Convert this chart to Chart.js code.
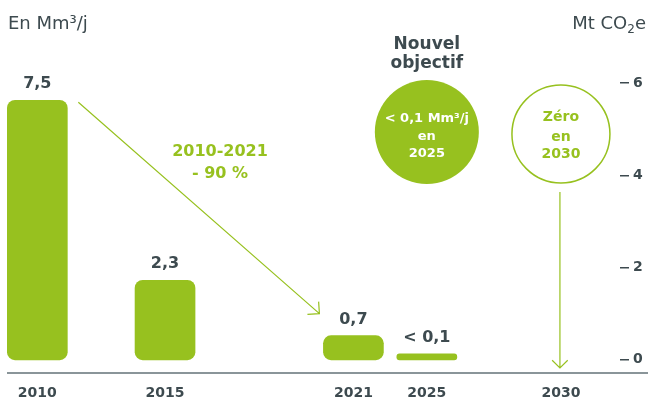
<!DOCTYPE html>
<html>
<head>
<meta charset="utf-8">
<script src="https://cdn.jsdelivr.net/npm/chart.js@4.4.1/dist/chart.umd.min.js"></script>
<style>
  html, body { margin: 0; padding: 0; background: #ffffff; }
</style>
</head>
<body>
<canvas id="chart" width="648" height="400"></canvas>
<script>
// Gas flow per year (Mm³/j) and the text written above each bar
const years = ['2010', '2015', '2021', '2025', '2030'];
const flow = [7.5, 2.3, 0.7, 0.1, null];
const flowLabels = ['7,5', '2,3', '0,7', '< 0,1', ''];
// Right-hand axis (Mt CO2e)
const co2Ticks = [0, 2, 4, 6];

// Timeline: number of empty slots before, between and after the year columns
const leadSlots = 9;
const gapSlots = [40, 59, 23, 42];
const tailSlots = 18;

const GREEN = '#97c11f';
const DARK = '#3d4a4f';
const FONT = '"DejaVu Sans", sans-serif';

const slotLabels = [];
for (let i = 0; i < leadSlots; i++) slotLabels.push('');
years.forEach((yr, i) => {
  slotLabels.push(yr);
  const blanks = i < gapSlots.length ? gapSlots[i] - 1 : tailSlots;
  for (let k = 0; k < blanks; k++) slotLabels.push('');
});

function arrow(ctx, x1, y1, x2, y2, head) {
  const a = Math.atan2(y2 - y1, x2 - x1);
  ctx.beginPath();
  ctx.moveTo(x1, y1);
  ctx.lineTo(x2, y2);
  ctx.moveTo(x2 - head * Math.cos(a - Math.PI / 4), y2 - head * Math.sin(a - Math.PI / 4));
  ctx.lineTo(x2, y2);
  ctx.lineTo(x2 - head * Math.cos(a + Math.PI / 4), y2 - head * Math.sin(a + Math.PI / 4));
  ctx.stroke();
}

function lines(ctx, arr, x, y0, offsets) {
  arr.forEach((t, i) => ctx.fillText(t, x, y0 + offsets[i]));
}

const overlay = {
  id: 'overlay',
  afterDatasetsDraw(chart) {
    const { ctx, chartArea } = chart;
    const xs = chart.scales.x;
    const bars = chart.getDatasetMeta(0).data;
    ctx.save();

    // baseline
    ctx.strokeStyle = '#8a9599';
    ctx.lineWidth = 2;
    ctx.beginPath();
    ctx.moveTo(chartArea.left, chartArea.bottom);
    ctx.lineTo(chart.width, chartArea.bottom);
    ctx.stroke();

    // values above bars
    ctx.fillStyle = DARK;
    ctx.font = 'bold 16px ' + FONT;
    ctx.textAlign = 'center';
    ctx.textBaseline = 'middle';
    bars.forEach((b, i) => {
      if (flow[i] == null) return;
      ctx.fillText(flowLabels[i], b.x, b.y - 16);
    });

    // axis titles
    ctx.font = '18px ' + FONT;
    ctx.textAlign = 'left';
    ctx.fillText('En Mm³/j', 8, 24);
    const t1 = 'Mt CO', t2 = '2', t3 = 'e';
    const w1 = ctx.measureText(t1).width;
    const w3 = ctx.measureText(t3).width;
    ctx.font = '12px ' + FONT;
    const w2 = ctx.measureText(t2).width;
    const sx = 646 - (w1 + w2 + w3);
    ctx.font = '18px ' + FONT;
    ctx.fillText(t1, sx, 24);
    ctx.font = '12px ' + FONT;
    ctx.fillText(t2, sx + w1, 30);
    ctx.font = '18px ' + FONT;
    ctx.fillText(t3, sx + w1 + w2, 24);

    // 2010 -> 2021 trend arrow
    ctx.strokeStyle = GREEN;
    ctx.lineWidth = 1.2;
    const b0 = bars[0], b2 = bars[2];
    arrow(ctx, b0.x + 41, b0.y + 2, b2.x - 34, b2.y - 22, 12);

    ctx.fillStyle = GREEN;
    ctx.font = 'bold 16px ' + FONT;
    ctx.textAlign = 'center';
    lines(ctx, ['2010-2021', '- 90 %'], 220, 152, [0, 22]);

    // new target bubble
    const cx25 = xs.getPixelForValue(slotLabels.indexOf('2025'));
    ctx.fillStyle = DARK;
    ctx.font = 'bold 17px ' + FONT;
    lines(ctx, ['Nouvel', 'objectif'], cx25, 45, [0, 19]);
    ctx.fillStyle = GREEN;
    ctx.beginPath();
    ctx.arc(cx25, chartArea.top + 49, 52, 0, Math.PI * 2);
    ctx.fill();
    ctx.fillStyle = '#ffffff';
    ctx.font = 'bold 13px ' + FONT;
    lines(ctx, ['< 0,1 Mm³/j', 'en', '2025'], cx25, chartArea.top + 36, [0, 18, 35]);

    // zero target bubble and arrow
    const cx30 = xs.getPixelForValue(slotLabels.indexOf('2030'));
    ctx.strokeStyle = GREEN;
    ctx.lineWidth = 1.5;
    ctx.beginPath();
    ctx.arc(cx30, chartArea.top + 51, 49, 0, Math.PI * 2);
    ctx.stroke();
    ctx.fillStyle = GREEN;
    ctx.font = 'bold 14px ' + FONT;
    lines(ctx, ['Zéro', 'en', '2030'], cx30, chartArea.top + 34, [0, 20, 37]);
    ctx.lineWidth = 1.2;
    arrow(ctx, cx30 - 1, chartArea.top + 109, cx30 - 1, chartArea.bottom - 5, 11);

    ctx.restore();
  }
};

new Chart(document.getElementById('chart'), {
  type: 'bar',
  data: {
    labels: slotLabels,
    datasets: [{
      data: years.map((yr, i) => ({ x: yr, y: flow[i] })),
      backgroundColor: GREEN,
      borderRadius: 8,
      borderSkipped: false,
      barThickness: 60,
      minBarLength: 6,
      clip: false,
      yAxisID: 'y'
    }]
  },
  options: {
    responsive: false,
    animation: false,
    devicePixelRatio: 1,
    layout: { padding: { top: 83, left: 7, right: 0, bottom: 0 } },
    plugins: { legend: { display: false }, tooltip: { enabled: false } },
    scales: {
      x: {
        type: 'category',
        offset: true,
        // tick marks are hidden; their length only pushes the year labels down
        grid: { display: false, drawTicks: true, tickLength: 12 },
        border: { display: false },
        ticks: {
          autoSkip: false, maxRotation: 0, minRotation: 0, padding: 0,
          color: DARK, font: { family: FONT, size: 14, weight: 'bold' }
        },
        afterFit: s => { s.height = 27; }
      },
      y: { display: false, min: -0.38, max: 8 },
      y2: {
        type: 'linear',
        position: 'right',
        min: -0.285,
        max: 6,
        grid: { display: true, drawOnChartArea: false, drawTicks: true, tickLength: 9, tickColor: DARK, lineWidth: 1.5 },
        border: { display: false },
        ticks: { padding: 4, color: DARK, font: { family: FONT, size: 14, weight: 'bold' } },
        afterBuildTicks: s => { s.ticks = co2Ticks.map(v => ({ value: v })); },
        afterFit: s => { s.width = 28; }
      }
    }
  },
  plugins: [overlay]
});
</script>
</body>
</html>
